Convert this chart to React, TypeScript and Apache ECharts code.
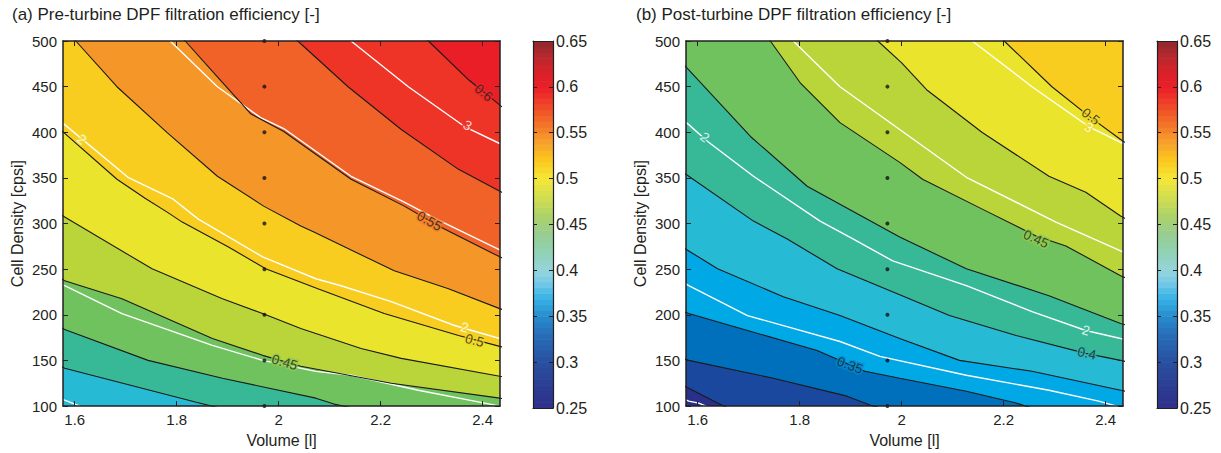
import React, { useEffect, useRef } from "react";
import * as echarts from "echarts";

const FONT = "'Liberation Sans', Arial, Helvetica, sans-serif";
const INK = "#231f20";

// ---- axes / ticks ----
const VOLUME_MIN = 1.577;
const VOLUME_MAX = 2.434;
const VOLUME_TICKS = [1.6, 1.8, 2, 2.2, 2.4];
const CPSI_MIN = 100;
const CPSI_MAX = 500;
const CPSI_TICKS = [100, 150, 200, 250, 300, 350, 400, 450, 500];
const EFF_MIN = 0.25;
const EFF_MAX = 0.65;
const EFF_TICKS = [0.25, 0.3, 0.35, 0.4, 0.45, 0.5, 0.55, 0.6, 0.65];

// ---- measured design points ----
const SAMPLE_VOLUME = 1.972;
const SAMPLE_CPSI = [100, 150, 200, 250, 300, 350, 400, 450, 500];

// ---- (a) pre-turbine efficiency contours [volume, cpsi] ----
const PRE_EFF_400 = [[1.5606, 146.9], [1.5803, 141.4], [1.8365, 104.4], [1.9645, 86.9], [2.4768, 65.1]];
const PRE_EFF_425 = [[1.5606, 189.4], [1.5803, 183.9], [1.7438, 150.1], [1.8897, 130.5], [2.0729, 108.7], [2.1084, 102.2], [2.2404, 86.9], [2.4768, 65.1]];
const PRE_EFF_450 = [[1.5606, 243.9], [1.5803, 237.3], [1.6926, 217.7], [1.87, 174.1], [1.9685, 155.6], [2.0433, 143.6], [2.2207, 125.1], [2.4335, 108.7], [2.4768, 105.4]];
const PRE_EFF_475 = [[1.5606, 313.6], [1.5803, 307.1], [1.7517, 250.4], [1.8897, 217.7], [1.9685, 201.4], [2.0433, 185.0], [2.1616, 163.2], [2.2404, 152.3], [2.4335, 132.7], [2.4768, 129.4]];
const PRE_EFF_500 = [[1.5606, 408.4], [1.5764, 400.8], [1.6828, 348.5], [1.7379, 327.8], [1.7813, 312.5], [1.8108, 301.6], [1.9015, 274.4], [1.9744, 250.4], [2.0768, 228.6], [2.2069, 201.4], [2.3527, 177.4], [2.4335, 165.4], [2.4768, 159.9]];
const PRE_EFF_525 = [[1.5704, 519.6], [1.6039, 498.9], [1.6828, 449.9], [1.7813, 399.7], [1.8798, 351.8], [1.9704, 319.1], [2.0433, 297.3], [2.069, 290.7], [2.2266, 248.2], [2.333, 228.6], [2.4335, 206.8], [2.4768, 198.1]];
const PRE_EFF_550 = [[1.7773, 522.9], [1.8167, 500], [1.8798, 460.8], [1.9448, 420.4], [2.0099, 400.8], [2.1419, 348.5], [2.2463, 319.1], [2.3133, 297.3], [2.4335, 263.5], [2.4768, 252.6]];
const PRE_EFF_575 = [[1.9941, 522.9], [2.0374, 500], [2.136, 449.9], [2.2404, 403.0], [2.3527, 359.4], [2.4374, 334.3], [2.4768, 323.4]];
const PRE_EFF_600 = [[2.2542, 521.8], [2.2936, 500], [2.3724, 457.5], [2.4374, 428.1], [2.4768, 411.7]];

// ---- (a) pressure-drop (white) lines ----
const PRE_DP_CORNER = [[1.5507, 113.1], [1.5803, 106.5], [1.6099, 100], [1.6394, 93.5]];
const PRE_DP_LOW = [[1.5507, 238.4], [1.5803, 231.9], [1.6926, 201.4], [1.87, 166.5], [1.9685, 150.1], [2.0729, 138.1], [2.1419, 133.8], [2.2739, 117.4], [2.4039, 103.3], [2.4335, 100], [2.4768, 95.6]];
const PRE_DP_2 = [[1.5507, 422.6], [1.5803, 408.4], [1.7044, 350.7], [1.7931, 326.7], [1.8424, 304.9], [1.9685, 263.5], [2.0729, 239.5], [2.1222, 231.9], [2.2207, 214.4], [2.3448, 188.3], [2.4335, 174.1], [2.4768, 167.6]];
const PRE_DP_25 = [[1.7675, 512.0], [1.7872, 500], [1.8798, 449.9], [1.9645, 416.1], [2.0099, 404.1], [2.1419, 351.8], [2.2463, 323.4], [2.3133, 303.8], [2.4335, 271.1], [2.4768, 261.3]];
const PRE_DP_3 = [[2.1025, 517.4], [2.1419, 500], [2.2542, 449.9], [2.3645, 406.3], [2.4374, 386.6], [2.4768, 376.8]];

// ---- (b) post-turbine efficiency contours ----
const POST_EFF_300 = [[1.5473, 129.4], [1.5824, 119.6], [1.639, 103.3], [1.7229, 81.5], [2.4644, 43.3]];
const POST_EFF_325 = [[1.5473, 156.7], [1.5824, 150.1], [1.7483, 130.5], [1.8927, 110.9], [1.9376, 101.1], [1.9961, 92.4], [2.4644, 65.1]];
const POST_EFF_350 = [[1.5473, 209.0], [1.5824, 201.4], [1.6976, 182.8], [1.8341, 161.0], [1.9278, 138.1], [1.9961, 130.5], [2.1268, 116.3], [2.2244, 103.3], [2.2498, 98.9], [2.4644, 81.5]];
const POST_EFF_375 = [[1.5473, 282.0], [1.5824, 270.0], [1.639, 250.4], [1.7678, 219.9], [1.879, 199.2], [1.9961, 174.1], [2.1132, 150.1], [2.2556, 138.1], [2.4293, 117.4], [2.4644, 113.1]];
const POST_EFF_400 = [[1.5473, 364.9], [1.5824, 351.8], [1.7093, 302.7], [1.7756, 283.1], [1.8732, 250.4], [1.9961, 222.1], [2.0937, 199.2], [2.2244, 177.4], [2.361, 157.8], [2.4293, 150.1], [2.4644, 145.8]];
const POST_EFF_425 = [[1.5473, 489.1], [1.5824, 468.4], [1.7034, 395.4], [1.8146, 340.9], [1.9317, 304.9], [1.9961, 285.3], [2.1268, 250.4], [2.2888, 221.0], [2.4293, 190.5], [2.4644, 185.0]];
const POST_EFF_450 = [[1.719, 518.5], [1.7424, 500], [1.801, 454.2], [1.879, 410.6], [1.9961, 367.0], [2.041, 348.5], [2.158, 315.8], [2.2634, 286.4], [2.322, 275.5], [2.4293, 242.8], [2.4644, 234.1]];
const POST_EFF_475 = [[1.9278, 517.4], [1.9532, 500], [2.0, 476.0], [2.0488, 446.6], [2.158, 399.7], [2.2888, 351.8], [2.361, 334.3], [2.4293, 308.2], [2.4644, 298.4]];
const POST_EFF_500 = [[2.1717, 517.4], [2.201, 500], [2.2946, 449.9], [2.3707, 416.1], [2.4293, 392.1], [2.4644, 379.0]];

// ---- (b) pressure-drop (white) lines ----
const POST_DP_CORNER = [[1.5473, 114.2], [1.5824, 105.4], [1.602, 103.3], [1.6254, 97.8]];
const POST_DP_LOW = [[1.5473, 243.9], [1.5824, 231.9], [1.6976, 199.2], [1.879, 170.8], [1.9571, 154.5], [2.1268, 133.8], [2.2888, 117.4], [2.3863, 105.4], [2.4215, 100], [2.4644, 92.4]];
const POST_DP_2 = [[1.5473, 424.8], [1.5824, 408.4], [1.6195, 389.9], [1.7093, 351.8], [1.84, 302.7], [1.9044, 283.1], [1.9824, 259.1], [2.1268, 231.9], [2.2556, 203.5], [2.361, 182.8], [2.4293, 174.1], [2.4644, 170.8]];
const POST_DP_25 = [[1.762, 517.4], [1.7873, 500], [1.879, 449.9], [1.9961, 403.0], [2.1268, 350.7], [2.3024, 301.6], [2.4293, 270.0], [2.4644, 261.3]];
const POST_DP_3 = [[2.1093, 517.4], [2.1385, 500], [2.2556, 449.9], [2.3668, 406.3], [2.4293, 388.8], [2.4644, 381.0]];

// ---- contour labels ----
const PRE_LABELS = [
  { v: 2.0118, c: 147.9, text: "0.45", angle: -16, white: false, under: 0.45 },
  { v: 2.3842, c: 171.9, text: "0.5", angle: -15, white: false, under: 0.5 },
  { v: 2.2956, c: 302.7, text: "0.55", angle: -30, white: false, under: 0.55 },
  { v: 2.402, c: 443.3, text: "0.6", angle: -39, white: false, under: 0.6 },
  { v: 1.6138, c: 392.1, text: "2", angle: -40, white: true, under: 0.5 },
  { v: 2.3704, c: 407.4, text: "3", angle: -30, white: true, under: 0.59 },
  { v: 2.3645, c: 186.1, text: "2", angle: -16, white: true, under: 0.505 },
];
const POST_LABELS = [
  { v: 1.8985, c: 144.7, text: "0.35", angle: -20, white: false, under: 0.35 },
  { v: 2.3629, c: 157.8, text: "0.4", angle: -12, white: false, under: 0.4 },
  { v: 2.2634, c: 283.1, text: "0.45", angle: -24, white: false, under: 0.45 },
  { v: 2.3707, c: 417.2, text: "0.5", angle: -37, white: false, under: 0.5 },
  { v: 1.6137, c: 394.3, text: "2", angle: -39, white: true, under: 0.41 },
  { v: 2.361, c: 182.8, text: "2", angle: -17, white: true, under: 0.412 },
  { v: 2.3668, c: 405.2, text: "3", angle: -31, white: true, under: 0.495 },
];

const PRE_CONTOURS = [
  { level: 0.4, points: PRE_EFF_400 },
  { level: 0.425, points: PRE_EFF_425 },
  { level: 0.45, points: PRE_EFF_450 },
  { level: 0.475, points: PRE_EFF_475 },
  { level: 0.5, points: PRE_EFF_500 },
  { level: 0.525, points: PRE_EFF_525 },
  { level: 0.55, points: PRE_EFF_550 },
  { level: 0.575, points: PRE_EFF_575 },
  { level: 0.6, points: PRE_EFF_600 },
];
const POST_CONTOURS = [
  { level: 0.3, points: POST_EFF_300 },
  { level: 0.325, points: POST_EFF_325 },
  { level: 0.35, points: POST_EFF_350 },
  { level: 0.375, points: POST_EFF_375 },
  { level: 0.4, points: POST_EFF_400 },
  { level: 0.425, points: POST_EFF_425 },
  { level: 0.45, points: POST_EFF_450 },
  { level: 0.475, points: POST_EFF_475 },
  { level: 0.5, points: POST_EFF_500 },
];
const PRE_DP_LINES = [PRE_DP_CORNER, PRE_DP_LOW, PRE_DP_2, PRE_DP_25, PRE_DP_3];
const POST_DP_LINES = [POST_DP_CORNER, POST_DP_LOW, POST_DP_2, POST_DP_25, POST_DP_3];

// ---- colour maps (style) ----
const FILL_STOPS: [number, number[]][] = [
  [0.2875, [40, 48, 138]],
  [0.3125, [25, 72, 158]],
  [0.3375, [0, 112, 188]],
  [0.3625, [0, 168, 230]],
  [0.3875, [38, 186, 212]],
  [0.4125, [55, 184, 150]],
  [0.4375, [112, 194, 95]],
  [0.4625, [185, 213, 58]],
  [0.4875, [234, 228, 44]],
  [0.5125, [249, 204, 32]],
  [0.5375, [245, 150, 40]],
  [0.5625, [241, 98, 40]],
  [0.5875, [238, 52, 39]],
  [0.6125, [234, 30, 38]],
];
const CB_STOPS: [number, number[]][] = [
  [0.25, [45, 48, 138]], [0.27, [45, 58, 145]], [0.3, [40, 80, 160]], [0.33, [40, 110, 185]],
  [0.35, [40, 140, 205]], [0.37, [55, 178, 230]], [0.385, [110, 200, 232]], [0.4, [150, 212, 220]],
  [0.42, [145, 210, 180]], [0.44, [150, 205, 145]], [0.46, [175, 210, 105]], [0.48, [210, 222, 80]],
  [0.5, [245, 232, 55]], [0.52, [252, 200, 30]], [0.54, [247, 160, 45]], [0.56, [243, 115, 40]],
  [0.58, [240, 70, 40]], [0.6, [235, 30, 40]], [0.62, [210, 35, 42]], [0.635, [180, 40, 45]],
  [0.65, [140, 40, 45]],
];
const CB_STEP_COUNT = 64;

function rgb(c: number[]) {
  return `rgb(${c.map((x) => Math.round(x)).join(",")})`;
}
function interp(stops: [number, number[]][], v: number): string {
  if (v <= stops[0][0]) return rgb(stops[0][1]);
  for (let i = 1; i < stops.length; i++) {
    if (v <= stops[i][0]) {
      const [v0, c0] = stops[i - 1];
      const [v1, c1] = stops[i];
      const t = (v - v0) / (v1 - v0);
      return rgb(c0.map((c, k) => c + (c1[k] - c) * t));
    }
  }
  return rgb(stops[stops.length - 1][1]);
}
const fillColor = (v: number) => interp(FILL_STOPS, v);
const cbColor = (v: number) => interp(CB_STOPS, v);

// ---- layout ----
const PLOT_GRIDS = [
  { left: 63, top: 41, width: 437, height: 367 },
  { left: 686, top: 41, width: 437, height: 367 },
];
const CB_GRIDS = [
  { left: 533, top: 41, width: 20, height: 367 },
  { left: 1157, top: 41, width: 20, height: 367 },
];
const TITLES = ["(a) Pre-turbine DPF filtration efficiency [-]", "(b) Post-turbine DPF filtration efficiency [-]"];
const TITLE_LEFT = [12, 636];

function buildOption() {
  const lineStyleAxis = { color: INK, width: 1.5 };
  const xAxes: any[] = [];
  const yAxes: any[] = [];
  const series: any[] = [];

  [0, 1].forEach((g) => {
    xAxes.push({
      gridIndex: g, type: "value", position: "bottom", min: VOLUME_MIN, max: VOLUME_MAX, z: 10,
      axisLine: { show: true, onZero: false, lineStyle: lineStyleAxis },
      axisTick: { show: true, inside: true, length: 5, customValues: VOLUME_TICKS, lineStyle: { color: INK, width: 1 } },
      axisLabel: { show: true, customValues: VOLUME_TICKS, fontSize: 15, color: INK, fontFamily: FONT, margin: 6 },
      splitLine: { show: false },
      name: "Volume [l]", nameLocation: "middle", nameGap: 22,
      nameTextStyle: { fontSize: 16, color: INK, fontFamily: FONT },
    });
    xAxes.push({
      gridIndex: g, type: "value", position: "top", min: VOLUME_MIN, max: VOLUME_MAX, z: 10,
      axisLine: { show: true, onZero: false, lineStyle: lineStyleAxis },
      axisTick: { show: true, inside: true, length: 5, customValues: VOLUME_TICKS, lineStyle: { color: INK, width: 1 } },
      axisLabel: { show: false }, splitLine: { show: false },
    });
    yAxes.push({
      gridIndex: g, type: "value", position: "left", min: CPSI_MIN, max: CPSI_MAX, z: 10,
      axisLine: { show: true, onZero: false, lineStyle: lineStyleAxis },
      axisTick: { show: true, inside: true, length: 5, customValues: CPSI_TICKS, lineStyle: { color: INK, width: 1 } },
      axisLabel: { show: true, customValues: CPSI_TICKS, fontSize: 15, color: INK, fontFamily: FONT, margin: 6 },
      splitLine: { show: false },
      name: "Cell Density [cpsi]", nameLocation: "middle", nameGap: 38, nameRotate: 90,
      nameTextStyle: { fontSize: 16, color: INK, fontFamily: FONT },
    });
    yAxes.push({
      gridIndex: g, type: "value", position: "right", min: CPSI_MIN, max: CPSI_MAX, z: 10,
      axisLine: { show: true, onZero: false, lineStyle: lineStyleAxis },
      axisTick: { show: true, inside: true, length: 5, customValues: CPSI_TICKS, lineStyle: { color: INK, width: 1 } },
      axisLabel: { show: false }, splitLine: { show: false },
    });
  });
  [2, 3].forEach((g) => {
    xAxes.push({
      gridIndex: g, type: "value", position: "bottom", min: 0, max: 1, z: 10,
      axisLine: { show: true, onZero: false, lineStyle: { color: INK, width: 1.2 } },
      axisTick: { show: false }, axisLabel: { show: false }, splitLine: { show: false },
    });
    xAxes.push({
      gridIndex: g, type: "value", position: "top", min: 0, max: 1, z: 10,
      axisLine: { show: true, onZero: false, lineStyle: { color: INK, width: 1.2 } },
      axisTick: { show: false }, axisLabel: { show: false }, splitLine: { show: false },
    });
    yAxes.push({
      gridIndex: g, type: "value", position: "left", min: EFF_MIN, max: EFF_MAX, z: 10,
      axisLine: { show: true, onZero: false, lineStyle: { color: INK, width: 1.2 } },
      axisTick: { show: true, inside: true, length: 4, customValues: EFF_TICKS, lineStyle: { color: INK } },
      axisLabel: { show: false }, splitLine: { show: false },
    });
    yAxes.push({
      gridIndex: g, type: "value", position: "right", min: EFF_MIN, max: EFF_MAX, z: 10,
      axisLine: { show: true, onZero: false, lineStyle: { color: INK, width: 1.2 } },
      axisTick: { show: true, inside: true, length: 4, customValues: EFF_TICKS, lineStyle: { color: INK } },
      axisLabel: { show: true, customValues: EFF_TICKS, fontSize: 16, color: INK, fontFamily: FONT, margin: 3 },
      splitLine: { show: false },
    });
  });

  const panels = [
    { contours: PRE_CONTOURS, dp: PRE_DP_LINES, labels: PRE_LABELS },
    { contours: POST_CONTOURS, dp: POST_DP_LINES, labels: POST_LABELS },
  ];
  panels.forEach((p, g) => {
    const ax = { xAxisIndex: 2 * g, yAxisIndex: 2 * g };
    p.contours.forEach((ct) => {
      series.push({
        type: "line", ...ax, data: ct.points, showSymbol: false, symbol: "none", silent: true, z: 1,
        lineStyle: { width: 0, opacity: 0 },
        areaStyle: { color: fillColor(ct.level + 0.0125), opacity: 1, origin: "end" },
        clip: true,
      });
    });
    p.dp.forEach((pts) => {
      series.push({
        type: "line", ...ax, data: pts, showSymbol: false, symbol: "none", silent: true, z: 3,
        lineStyle: { color: "#ffffff", width: 1.4 }, clip: true,
      });
    });
    p.contours.forEach((ct) => {
      series.push({
        type: "line", ...ax, data: ct.points, showSymbol: false, symbol: "none", silent: true, z: 4,
        lineStyle: { color: "#1b1b1b", width: 1.1 }, clip: true,
      });
    });
    series.push({
      type: "scatter", ...ax, silent: true, z: 5, clip: false,
      symbolSize: 4, itemStyle: { color: "#111111" },
      data: SAMPLE_CPSI.map((c) => [SAMPLE_VOLUME, c]),
    });
    series.push({
      type: "scatter", ...ax, silent: true, z: 6, clip: false, symbolSize: 0,
      itemStyle: { color: "transparent" },
      label: { show: true, position: "inside", fontSize: 13.5, fontFamily: FONT },
      data: p.labels.map((l) => ({
        value: [l.v, l.c],
        label: {
          formatter: l.text, rotate: l.angle,
          color: l.white ? "#ffffff" : INK,
          textBorderColor: fillColor(l.under), textBorderWidth: 3,
        },
      })),
    });
  });

  const steps: number[][] = [];
  for (let i = 0; i < CB_STEP_COUNT; i++) {
    const lo = EFF_MIN + ((EFF_MAX - EFF_MIN) * i) / CB_STEP_COUNT;
    const hi = EFF_MIN + ((EFF_MAX - EFF_MIN) * (i + 1)) / CB_STEP_COUNT;
    steps.push([0.5, lo, hi]);
  }
  [2, 3].forEach((g) => {
    series.push({
      type: "custom", xAxisIndex: 2 * g, yAxisIndex: 2 * g, silent: true, z: 2,
      data: steps, encode: { x: 0, y: [1, 2] },
      renderItem: (_params: any, api: any) => {
        const lo = api.value(1);
        const hi = api.value(2);
        const a = api.coord([0, hi]);
        const b = api.coord([1, lo]);
        return {
          type: "rect",
          shape: { x: a[0], y: a[1], width: b[0] - a[0], height: b[1] - a[1] + 0.6 },
          style: { fill: cbColor((lo + hi) / 2) },
        };
      },
    });
  });

  const grids = [
    ...PLOT_GRIDS.map((r, i) => ({
      ...r, containLabel: false, show: true, borderWidth: 0,
      backgroundColor: fillColor(i === 0 ? 0.3875 : 0.2875),
    })),
    ...CB_GRIDS.map((r) => ({ ...r, containLabel: false })),
  ];

  return {
    animation: false,
    backgroundColor: "#ffffff",
    title: TITLES.map((t, i) => ({
      text: t, left: TITLE_LEFT[i], top: 6, padding: 0,
      textStyle: { fontSize: 17, fontWeight: "normal", color: INK, fontFamily: FONT },
    })),
    grid: grids,
    xAxis: xAxes,
    yAxis: yAxes,
    series,
  };
}

export default function App() {
  const ref = useRef<HTMLDivElement>(null);
  useEffect(() => {
    if (!ref.current) return;
    const chart = echarts.init(ref.current, undefined, { renderer: "svg" });
    chart.setOption(buildOption() as any);
    return () => chart.dispose();
  }, []);
  return (
    <div
      ref={ref}
      style={{ position: "fixed", left: 0, top: 0, width: 1221, height: 453, background: "#fff" }}
    />
  );
}
